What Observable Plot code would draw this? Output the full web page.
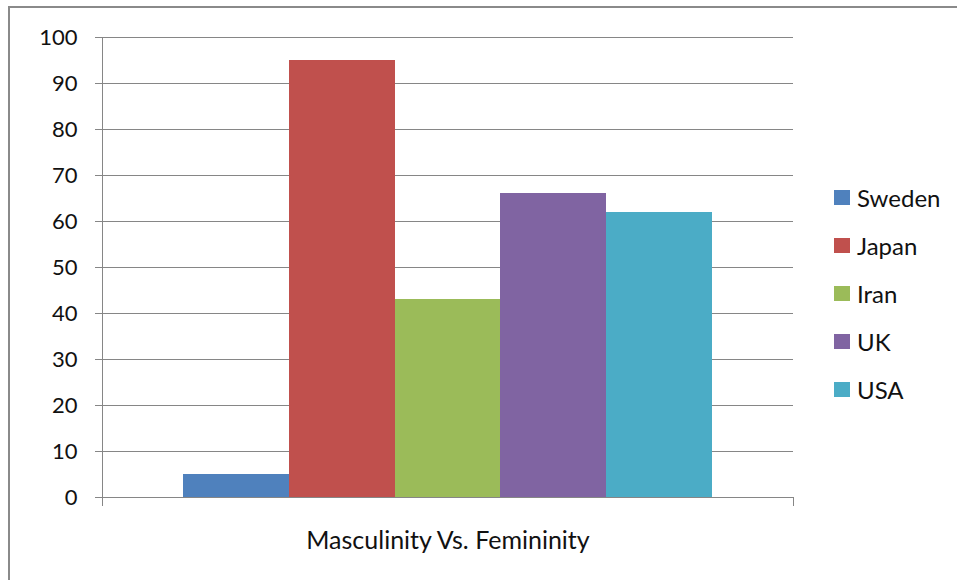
<!DOCTYPE html>
<html>
<head>
<meta charset="utf-8">
<script src="https://cdn.jsdelivr.net/npm/d3@7"></script>
<script src="https://cdn.jsdelivr.net/npm/@observablehq/plot@0.6"></script>
<style>
  body { margin: 0; background: #fff; }
  #wrap { position: relative; width: 957px; height: 580px; overflow: hidden; font-family: Lato, sans-serif; }
  #border { position: absolute; left: 8px; top: 6px; width: 1200px; height: 1200px;
            border-top: 2px solid #8a8a8a; border-left: 2px solid #8a8a8a; }
  #chart { position: absolute; left: 0; top: 0; }
  #legend { position: absolute; left: 834px; top: 0; }
  .item { position: absolute; left: 0; height: 30px; display: flex; align-items: center;
          white-space: nowrap; font-size: 24px; color: #111; }
  .sw { width: 16px; height: 15px; margin-right: 7px; }
</style>
</head>
<body>
<div id="wrap">
  <div id="border"></div>
  <div id="chart"></div>
  <div id="legend"></div>
</div>
<script>
// Hofstede masculinity index by country
const countries = ["Sweden", "Japan", "Iran", "UK", "USA"];
const scores = [5, 95, 43, 66, 62];
const colors = ["#4F81BD", "#C0504D", "#9BBB59", "#8064A2", "#4BACC6"];
const yTicks = [0, 10, 20, 30, 40, 50, 60, 70, 80, 90, 100];
const category = "Masculinity Vs. Femininity";

const data = countries.map((c, i) => ({country: c, value: scores[i]}));
const grid = "#868686";

const W = 957, H = 580;
const mTop = 37, mBottom = 83, mLeft = 102, mRight = 164;

const chart = Plot.plot({
  width: W,
  height: H,
  marginTop: mTop,
  marginBottom: mBottom,
  marginLeft: mLeft,
  marginRight: mRight,
  style: {fontFamily: "Lato, sans-serif", fontSize: "22px", color: "#111", background: "transparent"},
  x: {type: "band", domain: countries, paddingInner: 0, paddingOuter: 0.76, round: false, axis: null},
  y: {domain: [0, 100], axis: null},
  color: {domain: countries, range: colors},
  marks: [
    Plot.gridY(yTicks, {stroke: grid, strokeOpacity: 1}),
    Plot.barY(data, {x: "country", y: "value", fill: "country", inset: 0, shapeRendering: "crispEdges"}),
    Plot.ruleY([0], {stroke: grid}),
    Plot.frame({anchor: "left", stroke: grid, insetBottom: -8}),
    Plot.frame({anchor: "right", stroke: grid, insetTop: H - mTop - mBottom, insetBottom: -8}),
    Plot.axisY(yTicks, {tickSize: 7, tickPadding: 18, stroke: grid, fill: "#111", label: null, tickFormat: d => String(d)}),
    Plot.text([category], {frameAnchor: "bottom", dy: 51, fill: "#111", fontSize: 25})
  ]
});
document.getElementById("chart").appendChild(chart);

// legend on the right
const legend = document.getElementById("legend");
countries.forEach((c, i) => {
  const item = document.createElement("div");
  item.className = "item";
  item.style.top = (182 + i * 48) + "px";
  const sw = document.createElement("span");
  sw.className = "sw";
  sw.style.background = colors[i];
  const t = document.createElement("span");
  t.textContent = c;
  item.appendChild(sw);
  item.appendChild(t);
  legend.appendChild(item);
});
</script>
</body>
</html>
